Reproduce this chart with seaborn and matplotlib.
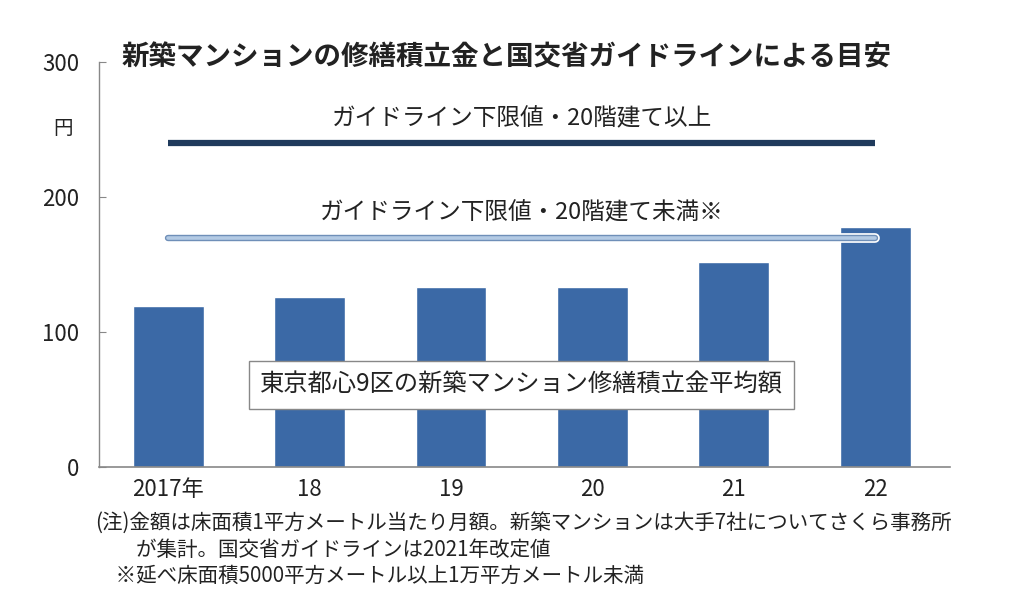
import matplotlib
matplotlib.use("Agg")
import matplotlib.pyplot as plt
import matplotlib.patheffects as pe
import seaborn as sns
import pandas as pd

years = ["2017年", "18", "19", "20", "21", "22"]
reserve = [119, 126, 133, 133, 152, 178]
guide_labels = ["ガイドライン下限値・20階建て以上", "ガイドライン下限値・20階建て未満※"]
guide_values = [240, 170]
title = "新築マンションの修繕積立金と国交省ガイドラインによる目安"
box_label = "東京都心9区の新築マンション修繕積立金平均額"
notes = [
    "(注)金額は床面積1平方メートル当たり月額。新築マンションは大手7社についてさくら事務所",
    "　　が集計。国交省ガイドラインは2021年改定値",
    "　※延べ床面積5000平方メートル以上1万平方メートル未満",
]

sns.set_style("white")
plt.rcParams["font.family"] = ["Noto Sans CJK JP", "DejaVu Sans"]

df = pd.DataFrame({"year": years, "yen": reserve})

fig = plt.figure(figsize=(10.14, 6.14), dpi=100)
ax = fig.add_axes([0.0976, 0.2394, 0.8394, 0.6596])

sns.barplot(data=df, x="year", y="yen", ax=ax, color="#3b69a6",
            saturation=1, width=0.5, errorbar=None, zorder=2)

# guideline lines
x0, x1 = 0, len(years) - 1
ax.plot([x0, x1], [guide_values[0]] * 2, color="#1f3a5c", lw=4.5,
        solid_capstyle="butt", zorder=3)
ax.plot([x0, x1], [guide_values[1]] * 2, color="#b3cae4", lw=2.6,
        solid_capstyle="round", zorder=3,
        path_effects=[pe.Stroke(linewidth=7, foreground="white"),
                      pe.Stroke(linewidth=4.6, foreground="#6f8fb8"),
                      pe.Normal()])
ax.text((x0 + x1) / 2, guide_values[0] + 18, guide_labels[0], ha="center",
        va="center", fontsize=17, color="#222222")
ax.text((x0 + x1) / 2, guide_values[1] + 18, guide_labels[1], ha="center",
        va="center", fontsize=17, color="#222222")

ax.text(2.5, 61, box_label, ha="center", va="center", fontsize=17.5,
        color="#222222", zorder=4,
        bbox=dict(boxstyle="square,pad=0.45", fc="white", ec="#888888", lw=1))

ax.set_xlim(-0.49, 5.53)
ax.set_ylim(0, 300)
ax.set_yticks([0, 100, 200, 300])
ax.set_xlabel("")
ax.set_ylabel("")
for s in ["top", "right"]:
    ax.spines[s].set_visible(False)
ax.spines["left"].set_color("#888888")
ax.spines["bottom"].set_color("#888888")
ax.spines["left"].set_linewidth(1)
ax.spines["bottom"].set_linewidth(1.2)
ax.tick_params(axis="y", direction="in", length=5, color="#888888",
               labelsize=16, pad=14, left=True)
ax.tick_params(axis="x", length=0, labelsize=16, pad=8)
for t in ax.get_yticklabels() + ax.get_xticklabels():
    t.set_color("#222222")

fig.text(0.062, 0.79, "円", ha="center", va="center", fontsize=14, color="#222222")
fig.text(0.12, 0.907, title, ha="left", va="center", fontsize=19.8,
         fontweight="bold", color="#222222")

for i, line in enumerate(notes):
    fig.text(0.094, 0.148 - i * 0.043, line, ha="left", va="center",
             fontsize=14.8, color="#222222")

fig.savefig("out.png", dpi=100)
